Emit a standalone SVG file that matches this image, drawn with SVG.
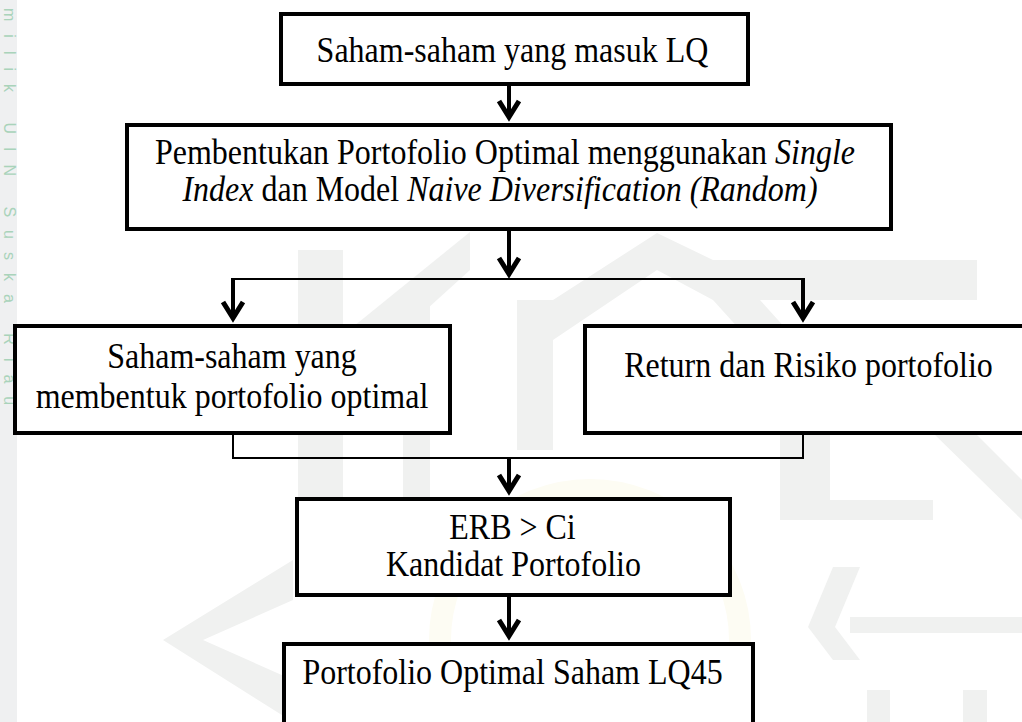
<svg xmlns="http://www.w3.org/2000/svg" width="1022" height="722" viewBox="0 0 1022 722">
  <style>
    .box { fill: #ffffff; stroke: #000000; stroke-width: 4; }
    .t { font-family: "Liberation Serif", "Times New Roman", serif; font-size: 32px; fill: #000000; text-anchor: middle; }
    .i { font-style: italic; }
    .thick { stroke: #000000; stroke-width: 4; fill: none; }
    .thin { stroke: #000000; stroke-width: 2; fill: none; }
    .wm { fill: #f0f1f0; }
    .wmtext { font-family: "Liberation Sans", Arial, sans-serif; font-size: 16px; fill: #a9d3ba; letter-spacing: 13px; }
  </style>
  <defs>
    <marker id="arrow" viewBox="-22 -14 30 28" markerWidth="30" markerHeight="28" refX="0" refY="0" orient="auto" markerUnits="userSpaceOnUse">
      <path d="M -16 -10 L 0 0 L -16 10" fill="none" stroke="#000000" stroke-width="5" stroke-linejoin="miter" stroke-miterlimit="10"/>
    </marker>
  </defs>

  <rect x="0" y="0" width="1022" height="722" fill="#ffffff"/>

  <g id="watermark">
    <rect x="0" y="0" width="17" height="722" fill="#eff0f1"/>
    <text class="wmtext" transform="translate(4,8) rotate(90)">milik UIN Suska Riau</text>
    <rect class="wm" x="298" y="250" width="45" height="262"/>
    <polygon class="wm" points="343,335 343,385 470,270 470,232"/>
    <rect class="wm" x="403" y="300" width="27" height="210"/>
    <rect class="wm" x="517" y="300" width="36" height="150"/>
    <polygon class="wm" points="553,300 553,340 657,270 713,300 977,300 977,260 713,260 657,233"/>
    <polygon class="wm" points="713,300 760,300 880,433 833,433"/>
    <rect class="wm" x="780" y="435" width="50" height="85"/>
    <rect class="wm" x="830" y="500" width="103" height="20"/>
    <polygon class="wm" points="933,433 975,433 1022,480 1022,520"/>
    <polygon class="wm" points="833,567 860,567 835,627 860,660 833,660 808,627"/>
    <rect class="wm" x="850" y="617" width="172" height="16"/>
    <rect class="wm" x="867" y="690" width="23" height="32"/>
    <rect class="wm" x="963" y="690" width="24" height="32"/>
    <polygon class="wm" points="293,560 293,600 203,640 293,680 293,722 163,640"/>
    <circle cx="590" cy="640" r="150" fill="none" stroke="#fdfcf3" stroke-width="22"/>
  </g>

  <g id="connectors">
    <line class="thick" x1="509" y1="86" x2="509" y2="117" marker-end="url(#arrow)"/>
    <line class="thick" x1="509" y1="231" x2="509" y2="274" marker-end="url(#arrow)"/>
    <line class="thin" x1="233" y1="279" x2="803" y2="279"/>
    <line class="thick" x1="233" y1="278" x2="233" y2="318" marker-end="url(#arrow)"/>
    <line class="thick" x1="803" y1="278" x2="803" y2="318" marker-end="url(#arrow)"/>
    <polyline class="thin" points="233,435 233,458 803,458 803,435"/>
    <line class="thick" x1="509" y1="457" x2="509" y2="491" marker-end="url(#arrow)"/>
    <line class="thick" x1="509" y1="597" x2="509" y2="636" marker-end="url(#arrow)"/>
  </g>

  <g id="node-lq">
    <rect class="box" x="281" y="14" width="467" height="70"/>
    <text class="t" transform="translate(512.5,62) scale(1,1.1)">Saham-saham yang masuk LQ</text>
  </g>

  <g id="node-pembentukan">
    <rect class="box" x="127" y="125" width="764" height="104"/>
    <text class="t" transform="translate(505,164) scale(1,1.1)">Pembentukan Portofolio Optimal menggunakan <tspan class="i">Single</tspan></text>
    <text class="t" transform="translate(500,201) scale(1,1.1)"><tspan class="i">Index</tspan> dan Model <tspan class="i">Naive Diversification (Random)</tspan></text>
  </g>

  <g id="node-saham-optimal">
    <rect class="box" x="15" y="326" width="435" height="107"/>
    <text class="t" transform="translate(232,368) scale(1,1.1)">Saham-saham yang</text>
    <text class="t" transform="translate(232,408) scale(1,1.1)">membentuk portofolio optimal</text>
  </g>

  <g id="node-return-risiko">
    <rect class="box" x="585" y="326" width="445" height="107"/>
    <text class="t" transform="translate(808.5,377) scale(1,1.1)">Return dan Risiko portofolio</text>
  </g>

  <g id="node-erb">
    <rect class="box" x="297" y="499" width="433" height="96"/>
    <text class="t" transform="translate(512.5,539) scale(1,1.1)">ERB &gt; Ci</text>
    <text class="t" transform="translate(513.5,576) scale(1,1.1)">Kandidat Portofolio</text>
  </g>

  <g id="node-optimal-lq45">
    <rect class="box" x="284" y="644" width="469" height="100"/>
    <text class="t" transform="translate(512.5,684) scale(1,1.1)">Portofolio Optimal Saham LQ45</text>
  </g>
</svg>
